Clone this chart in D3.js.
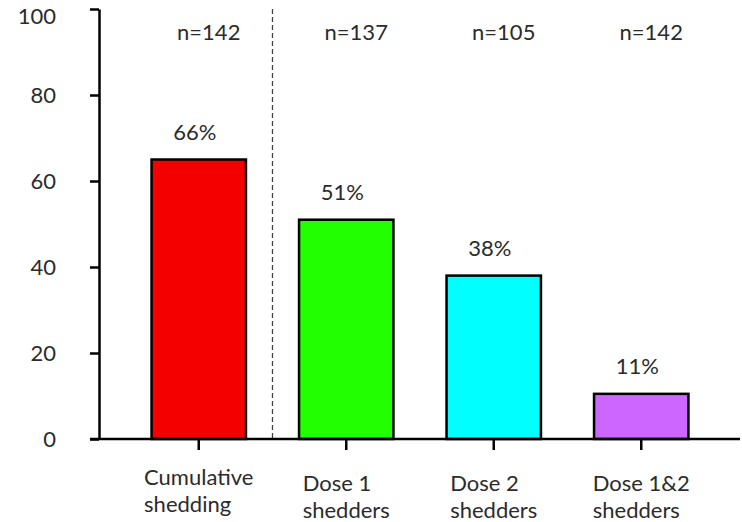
<!DOCTYPE html>
<html>
<head>
<meta charset="utf-8">
<script src="https://cdn.jsdelivr.net/npm/d3@7"></script>
<style>
  body { margin: 0; background: #fff; }
  text { font-family: Lato, "Open Sans", sans-serif; fill: #2b2b2b; }
</style>
</head>
<body>
<div class="chart"></div>
<script>
// Chart data
const categories = ["Cumulative|shedding", "Dose 1|shedders", "Dose 2|shedders", "Dose 1&2|shedders"];
const values = [65, 51, 38, 10.5];
const pctLabels = ["66%", "51%", "38%", "11%"];
const nLabels = ["n=142", "n=137", "n=105", "n=142"];
const barColors = ["#f50000", "#22ff00", "#00ffff", "#cc66ff"];
const yTicks = [0, 20, 40, 60, 80, 100];

const width = 742, height = 522;
const fontSize = "22px";

const svg = d3.select(".chart")
    .append("svg")
    .attr("width", width)
    .attr("height", height);

// Scales
const scaleY = d3.scaleLinear()
    .domain([0, 100])
    .range([439, 9]);

const scaleX = d3.scaleBand()
    .domain(categories)
    .range([125, 715])
    .padding(0);

const barW = scaleX.bandwidth() * 0.64;
const center = (d) => scaleX(d) + scaleX.bandwidth() / 2;

// Bars
svg.selectAll(".bar")
    .data(categories)
    .enter().append("rect")
    .attr("class", "bar")
    .attr("x", (d) => center(d) - barW / 2)
    .attr("y", (d, i) => scaleY(values[i]))
    .attr("width", barW)
    .attr("height", (d, i) => scaleY(0) - scaleY(values[i]))
    .attr("fill", (d, i) => barColors[i])
    .attr("stroke", "#000")
    .attr("stroke-width", 2.5);

// Dashed separator between first and second group
const sepX = (center(categories[0]) + barW / 2 + center(categories[1]) - barW / 2) / 2;
svg.append("line")
    .attr("x1", sepX).attr("x2", sepX)
    .attr("y1", scaleY(100)).attr("y2", scaleY(0))
    .attr("stroke", "#444")
    .attr("stroke-width", 1.3)
    .attr("stroke-dasharray", "5,3");

// Y-Axis
const yAxis = svg.append("g")
    .attr("transform", "translate(99,0)")
    .call(d3.axisLeft(scaleY).tickValues(yTicks).tickSize(9).tickPadding(34).tickSizeOuter(0));
yAxis.select(".domain").attr("stroke", "#000").attr("stroke-width", 2.5);
yAxis.selectAll(".tick line").attr("stroke", "#000").attr("stroke-width", 2.5);
yAxis.selectAll(".tick text")
    .style("font-family", "Lato, 'Open Sans', sans-serif")
    .style("font-size", fontSize)
    .attr("fill", "#2b2b2b")
    .attr("dy", (d) => d === 100 ? "0.68em" : "0.34em");

// X-Axis
const xAxisG = svg.append("g")
    .attr("transform", "translate(0," + scaleY(0) + ")");
xAxisG.append("line")
    .attr("x1", 90).attr("x2", 740)
    .attr("stroke", "#000").attr("stroke-width", 2.5);
xAxisG.selectAll(".xtick")
    .data(categories)
    .enter().append("line")
    .attr("x1", (d) => center(d)).attr("x2", (d) => center(d))
    .attr("y1", 0).attr("y2", 11)
    .attr("stroke", "#000").attr("stroke-width", 2.5);

// Category labels (two lines, left aligned, block centred on band)
categories.forEach((c, i) => {
    const lines = c.split("|");
    const y0 = i === 0 ? 485 : 491;
    const texts = lines.map((l, k) => svg.append("text")
        .style("font-size", fontSize)
        .attr("y", y0 + k * 27)
        .text(l));
    const w = d3.max(texts, (t) => t.node().getComputedTextLength());
    texts.forEach((t) => t.attr("x", center(c) - w / 2));
});

// Percent labels above bars
svg.selectAll(".pct")
    .data(categories)
    .enter().append("text")
    .attr("class", "pct")
    .attr("x", (d) => center(d) - 4)
    .attr("y", (d, i) => scaleY(values[i]) - 20)
    .attr("text-anchor", "middle")
    .style("font-size", fontSize)
    .text((d, i) => pctLabels[i]);

// n labels at top
svg.selectAll(".nlab")
    .data(categories)
    .enter().append("text")
    .attr("class", "nlab")
    .attr("x", (d) => center(d) + 10)
    .attr("y", 40)
    .attr("text-anchor", "middle")
    .style("font-size", fontSize)
    .text((d, i) => nLabels[i]);
</script>
</body>
</html>
